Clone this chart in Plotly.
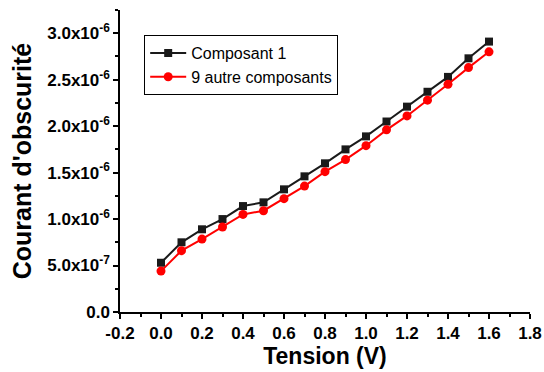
import plotly.graph_objects as go

tension = [0.0, 0.1, 0.2, 0.3, 0.4, 0.5, 0.6, 0.7, 0.8, 0.9, 1.0, 1.1, 1.2, 1.3, 1.4, 1.5, 1.6]
composant1 = [0.53e-6, 0.75e-6, 0.89e-6, 1.00e-6, 1.14e-6, 1.18e-6, 1.32e-6, 1.46e-6, 1.60e-6,
              1.75e-6, 1.89e-6, 2.05e-6, 2.21e-6, 2.37e-6, 2.53e-6, 2.73e-6, 2.91e-6]
autres9 = [0.44e-6, 0.66e-6, 0.785e-6, 0.915e-6, 1.05e-6, 1.09e-6, 1.22e-6, 1.355e-6, 1.51e-6,
           1.64e-6, 1.79e-6, 1.96e-6, 2.11e-6, 2.28e-6, 2.45e-6, 2.63e-6, 2.80e-6]

y_tickvals = [0, 0.5e-6, 1.0e-6, 1.5e-6, 2.0e-6, 2.5e-6, 3.0e-6]
y_ticktext = ["0.0", "5.0x10<sup>-7</sup>", "1.0x10<sup>-6</sup>", "1.5x10<sup>-6</sup>",
              "2.0x10<sup>-6</sup>", "2.5x10<sup>-6</sup>", "3.0x10<sup>-6</sup>"]
x_tickvals = [-0.2, 0.0, 0.2, 0.4, 0.6, 0.8, 1.0, 1.2, 1.4, 1.6, 1.8]
x_ticktext = ["-0.2", "0.0", "0.2", "0.4", "0.6", "0.8", "1.0", "1.2", "1.4", "1.6", "1.8"]

FONT = "Liberation Sans, Arial, sans-serif"
xr = [-0.2, 1.8]
yr = [0, 3.25e-6]

fig = go.Figure()
fig.add_trace(go.Scatter(x=tension, y=composant1, mode="lines+markers", name="Composant 1",
                         line=dict(color="#1a1a1a", width=2),
                         marker=dict(symbol="square", size=8, color="#1a1a1a")))
fig.add_trace(go.Scatter(x=tension, y=autres9, mode="lines+markers", name="9 autre composants",
                         line=dict(color="#ff0000", width=2),
                         marker=dict(symbol="circle", size=9, color="#ff0000")))

fig.update_layout(
    width=544, height=372,
    margin=dict(l=120, r=14, t=10, b=60),
    paper_bgcolor="white", plot_bgcolor="white",
    font=dict(family=FONT, color="black"),
    showlegend=True,
    legend=dict(x=0.059, y=0.917, xanchor="left", yanchor="top",
                bordercolor="black", borderwidth=1, bgcolor="white",
                font=dict(size=16, family=FONT), tracegroupgap=0,
                itemwidth=36),
    xaxis=dict(range=xr, tickmode="array", tickvals=x_tickvals, ticktext=x_ticktext,
               ticks="outside", ticklen=5, tickwidth=1.5, tickcolor="black",
               showline=True, linecolor="black", linewidth=1.5, showgrid=False, zeroline=False,
               automargin=False,
               tickfont=dict(size=17, family=FONT, weight="bold"),
               minor=dict(tickmode="linear", tick0=-0.2, dtick=0.1, ticks="outside", ticklen=3,
                          tickwidth=1.5, tickcolor="black", showgrid=False),
               title=dict(text="Tension (V)", font=dict(size=23, family=FONT, weight="bold"),
                          standoff=4)),
    yaxis=dict(range=yr, tickmode="array", tickvals=y_tickvals, ticktext=y_ticktext,
               ticks="outside", ticklen=5, tickwidth=1.5, tickcolor="black",
               showline=True, linecolor="black", linewidth=1.5, showgrid=False, zeroline=False,
               automargin=False,
               tickfont=dict(size=17, family=FONT, weight="bold"),
               minor=dict(tickmode="linear", tick0=0, dtick=0.25e-6, ticks="outside", ticklen=3,
                          tickwidth=1.5, tickcolor="black", showgrid=False),
               title=dict(text="Courant d'obscurité", font=dict(size=25, family=FONT, weight="bold"),
                          standoff=9)),
    xaxis2=dict(range=xr, overlaying="x", side="top", tickmode="array", tickvals=x_tickvals,
                showticklabels=False, ticks="inside", ticklen=5, tickwidth=1.5, tickcolor="black",
                showline=True, linecolor="black", linewidth=1.5, showgrid=False, zeroline=False,
                automargin=False,
                minor=dict(tickmode="linear", tick0=-0.2, dtick=0.1, ticks="inside", ticklen=3,
                           tickwidth=1.5, tickcolor="black", showgrid=False)),
    yaxis2=dict(range=yr, overlaying="y", side="right", tickmode="array", tickvals=y_tickvals,
                showticklabels=False, ticks="inside", ticklen=5, tickwidth=1.5, tickcolor="black",
                showline=True, linecolor="black", linewidth=1.5, showgrid=False, zeroline=False,
                automargin=False,
                minor=dict(tickmode="linear", tick0=0, dtick=0.25e-6, ticks="inside", ticklen=3,
                           tickwidth=1.5, tickcolor="black", showgrid=False)),
)

fig.write_html("out.html", config={"displayModeBar": False},
               post_script="document.body.style.margin='0';document.body.style.overflow='hidden';")
